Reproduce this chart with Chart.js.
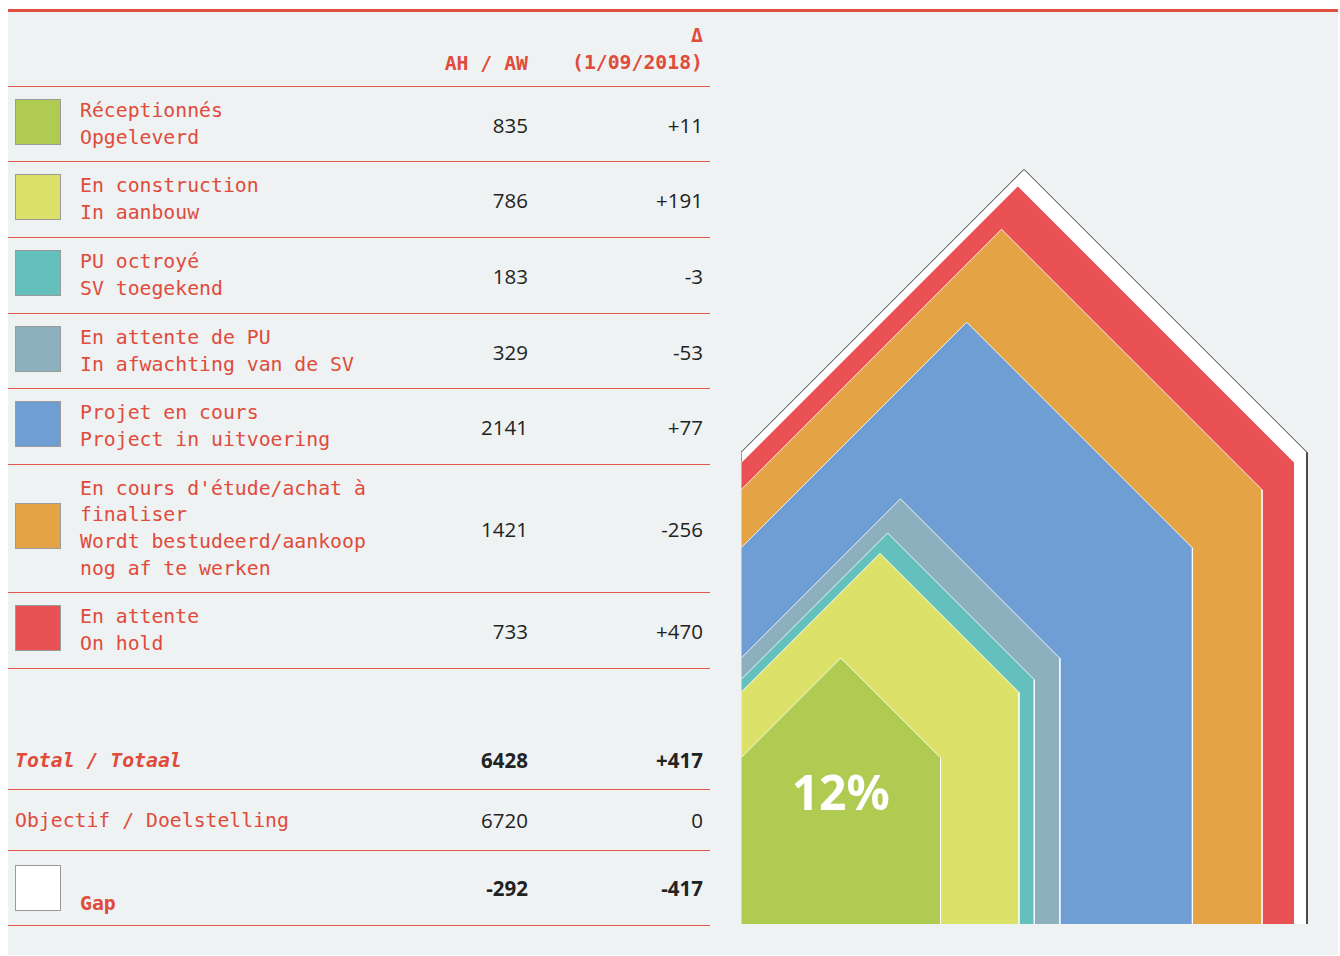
<!DOCTYPE html>
<html>
<head>
<meta charset="utf-8">
<script src="https://cdn.jsdelivr.net/npm/chart.js@4.4.1/dist/chart.umd.min.js"></script>
<style>
    body { margin: 0; background: #fff; width: 1340px; height: 956px; overflow: hidden; }
    #panel { position: absolute; left: 8px; top: 9px; width: 1330px; height: 946px; background: #eef2f3; border-top: 3px solid #e2503f; box-sizing: border-box; }
    #table { position: absolute; left: 8px; top: 12px; width: 702px; font-family: "DejaVu Sans Mono", monospace; font-size: 19.8px; color: #e04b3b; }
    .row { position: relative; border-bottom: 1.5px solid #e4574d; box-sizing: border-box; }
    .swatch { position: absolute; left: 7px; width: 46px; height: 46px; border: 1px solid #9a9a9a; box-sizing: border-box; }
    .label { position: absolute; left: 72px; width: 300px; line-height: 26.7px; }
    .num { position: absolute; font-family: "Open Sans", sans-serif; font-size: 20.5px; color: #222; text-align: right; }
    .c1 { right: 182px; }
    .c2 { right: 7px; }
    .head { position: absolute; font-weight: bold; text-align: right; line-height: 27px; }
    #houseBox { position: absolute; left: 731px; top: 140px; width: 609px; height: 794px; }
</style>
</head>
<body>
<div id="panel"></div>
<div id="table"></div>
<div id="houseBox"><canvas id="houseChart"></canvas></div>
<script>
// categories (FR / NL) and values
const labelsFr = ['Réceptionnés', 'En construction', 'PU octroyé', 'En attente de PU', 'Projet en cours', "En cours d'étude/achat à finaliser", 'En attente'];
const labelsNl = ['Opgeleverd', 'In aanbouw', 'SV toegekend', 'In afwachting van de SV', 'Project in uitvoering', 'Wordt bestudeerd/aankoop nog af te werken', 'On hold'];
const counts = [835, 786, 183, 329, 2141, 1421, 733];
const deltas = [11, 191, -3, -53, 77, -256, 470];
const colors = ['#b0cb51', '#dce269', '#64c0bd', '#8db0bf', '#6f9ed4', '#e4a445', '#ea5155'];

const totalValue = 6428;
const totalDelta = 417;
const goalValue = 6720;
const goalDelta = 0;
const gapValue = -292;
const gapDelta = -417;
const gapColor = '#ffffff';

const rowHeights = [75, 76, 76, 75, 76, 128, 76];

const signed = v => (v > 0 ? '+' : '') + v;

// ---- table ----
const table = document.getElementById('table');

const header = document.createElement('div');
header.className = 'row';
header.style.height = '75px';
header.innerHTML = `
    <div class="head" style="right:182px; top:38px;">AH / AW</div>
    <div class="head" style="right:7px; top:10px;">Δ<br>(1/09/2018)</div>`;
table.appendChild(header);

counts.forEach((count, i) => {
    const h = rowHeights[i];
    const row = document.createElement('div');
    row.className = 'row';
    row.style.height = h + 'px';
    const lines = i === 5 ? 4 : 2;
    const labelTop = (h - lines * 26.7) / 2;
    row.innerHTML = `
        <div class="swatch" style="top:${h / 2 - 26}px; background:${colors[i]}"></div>
        <div class="label" style="top:${labelTop}px">${labelsFr[i]}<br>${labelsNl[i]}</div>
        <div class="num c1" style="top:${h / 2 - 14}px">${count}</div>
        <div class="num c2" style="top:${h / 2 - 14}px">${signed(deltas[i])}</div>`;
    table.appendChild(row);
});

const totalRow = document.createElement('div');
totalRow.className = 'row';
totalRow.style.height = '121px';
totalRow.innerHTML = `
    <div style="position:absolute; left:7px; top:80px; font-weight:bold; font-style:italic;">Total / Totaal</div>
    <div class="num c1" style="top:77px; font-weight:bold;">${totalValue}</div>
    <div class="num c2" style="top:77px; font-weight:bold;">${signed(totalDelta)}</div>`;
table.appendChild(totalRow);

const goalRow = document.createElement('div');
goalRow.className = 'row';
goalRow.style.height = '61px';
goalRow.innerHTML = `
    <div style="position:absolute; left:7px; top:19px;">Objectif / Doelstelling</div>
    <div class="num c1" style="top:16px;">${goalValue}</div>
    <div class="num c2" style="top:16px;">${goalDelta}</div>`;
table.appendChild(goalRow);

const gapRow = document.createElement('div');
gapRow.className = 'row';
gapRow.style.height = '75px';
gapRow.innerHTML = `
    <div class="swatch" style="top:14px; background:${gapColor}"></div>
    <div style="position:absolute; left:72px; top:41px; font-weight:bold;">Gap</div>
    <div class="num c1" style="top:23px; font-weight:bold;">${gapValue}</div>
    <div class="num c2" style="top:23px; font-weight:bold;">${gapDelta}</div>`;
table.appendChild(gapRow);

// ---- houses: each house area grows with the cumulative count ----
const cumulative = [];
counts.reduce((acc, c) => { cumulative.push(acc + c); return acc + c; }, 0);

const houseShape = value => {
    const w = Math.sqrt(value);
    return [
        { x: 0, y: 0 },
        { x: 0, y: w * 5 / 6 },
        { x: w / 2, y: w * 4 / 3 },
        { x: w, y: w * 5 / 6 },
        { x: w, y: 0 }
    ];
};

const datasets = cumulative.map((v, i) => ({
    data: houseShape(v),
    showLine: true,
    fill: 'origin',
    backgroundColor: colors[i],
    borderColor: 'rgba(255,255,255,0.85)',
    borderWidth: 1,
    pointRadius: 0,
    tension: 0
}));
datasets.push({
    data: houseShape(goalValue),
    showLine: true,
    fill: 'origin',
    backgroundColor: gapColor,
    borderColor: '#333',
    borderWidth: 1,
    pointRadius: 0,
    tension: 0
});

// plot area is 599 x 774 px; the goal house spans 566 px of it
const xMax = Math.sqrt(goalValue) * 599 / 566;
const yMax = xMax * 774 / 599;

const shareLabel = {
    id: 'shareLabel',
    afterDatasetsDraw(chart) {
        const { ctx, scales: { x, y } } = chart;
        const w = Math.sqrt(counts[0]);
        const pct = Math.round(counts[0] / goalValue * 100);
        ctx.save();
        ctx.fillStyle = '#fff';
        ctx.font = 'bold 48px "Noto Sans", sans-serif';
        ctx.textAlign = 'center';
        ctx.textBaseline = 'middle';
        ctx.fillText(pct + '%', x.getPixelForValue(w / 2), y.getPixelForValue(w * 0.64));
        ctx.restore();
    }
};

new Chart(document.getElementById('houseChart'), {
    type: 'scatter',
    data: { datasets },
    options: {
        responsive: true,
        maintainAspectRatio: false,
        animation: false,
        layout: { padding: { left: 10, top: 10, right: 0, bottom: 10 } },
        scales: {
            x: { type: 'linear', min: 0, max: xMax, display: false },
            y: { type: 'linear', min: 0, max: yMax, display: false }
        },
        plugins: { legend: { display: false }, tooltip: { enabled: false } }
    },
    plugins: [shareLabel]
});
</script>
</body>
</html>
